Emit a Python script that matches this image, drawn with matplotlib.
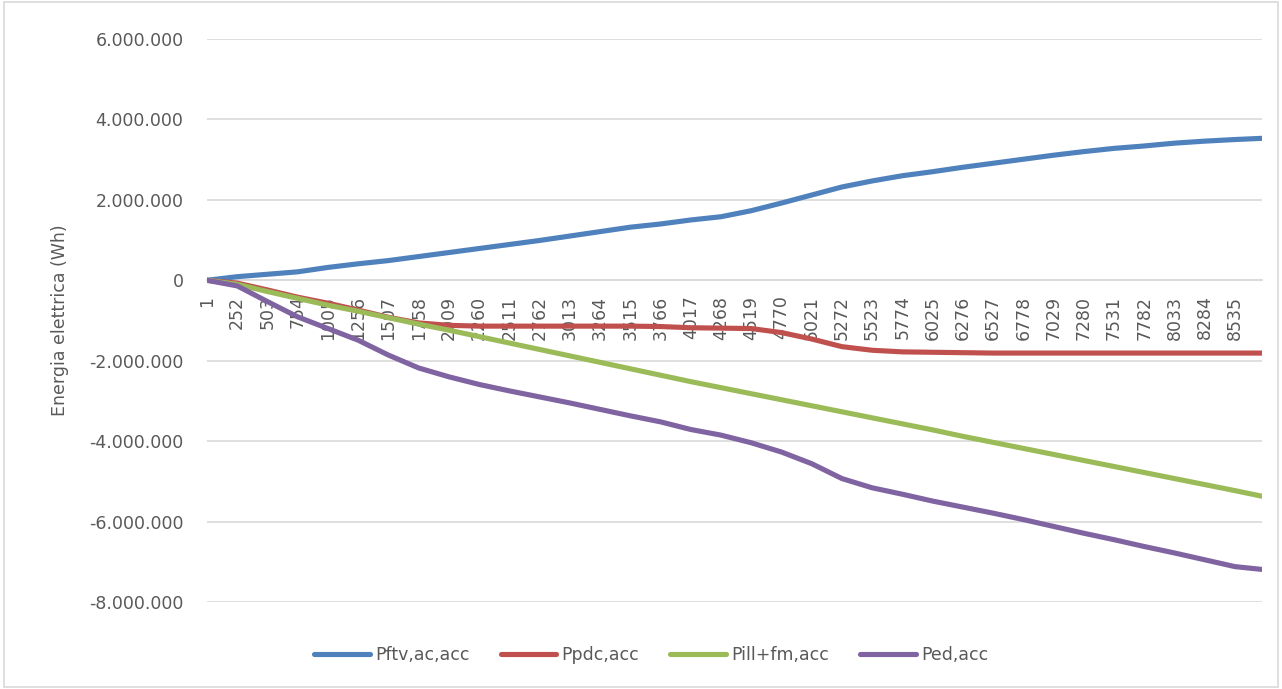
import matplotlib
matplotlib.use('Agg')
import matplotlib.pyplot as plt
from matplotlib.ticker import FuncFormatter
from matplotlib.patches import Rectangle
import numpy as np

hours = [1 + 251 * k for k in range(35)] + [8760]
tick_hours = hours[:-1]

# energia cumulata, milioni di Wh
pftv = [0, 0.09, 0.15, 0.21, 0.32, 0.41, 0.49, 0.59, 0.69, 0.79, 0.89, 0.99, 1.10, 1.21, 1.32, 1.40,
        1.50, 1.58, 1.73, 1.92, 2.12, 2.32, 2.47, 2.60, 2.70, 2.81, 2.91, 3.01, 3.11, 3.20, 3.28, 3.34,
        3.41, 3.46, 3.50, 3.53]
ppdc = [0, -0.07, -0.24, -0.42, -0.57, -0.74, -0.92, -1.06, -1.12, -1.14, -1.14, -1.14, -1.14, -1.14,
        -1.14, -1.15, -1.18, -1.19, -1.20, -1.30, -1.46, -1.65, -1.74, -1.78, -1.79, -1.80, -1.81,
        -1.81, -1.81, -1.81, -1.81, -1.81, -1.81, -1.81, -1.81, -1.81]
pill = [0, -0.10, -0.28, -0.45, -0.62, -0.77, -0.93, -1.09, -1.24, -1.40, -1.56, -1.72, -1.88, -2.04,
        -2.20, -2.36, -2.52, -2.67, -2.82, -2.97, -3.12, -3.27, -3.42, -3.57, -3.72, -3.88, -4.03,
        -4.18, -4.33, -4.48, -4.63, -4.78, -4.93, -5.08, -5.23, -5.37]
ped = [0, -0.14, -0.53, -0.91, -1.20, -1.49, -1.86, -2.18, -2.40, -2.59, -2.75, -2.90, -3.05, -3.21,
       -3.37, -3.52, -3.71, -3.85, -4.04, -4.27, -4.56, -4.93, -5.16, -5.32, -5.49, -5.64, -5.79,
       -5.95, -6.12, -6.29, -6.45, -6.62, -6.78, -6.95, -7.12, -7.19]

labels = ['Pftv,ac,acc', 'Ppdc,acc', 'Pill+fm,acc', 'Ped,acc']
colors = ['#4F81BD', '#C0504D', '#9BBB59', '#8064A2']

plt.rcParams['font.family'] = ['DejaVu Sans']
text_color = '#595959'

fig = plt.figure(figsize=(12.82, 6.89), dpi=100)
ax = fig.add_axes([207 / 1282, 1 - 602 / 689, (1262 - 207) / 1282, (602 - 39) / 689])

x = np.array(hours)
for series, label, c in zip([pftv, ppdc, pill, ped], labels, colors):
    ax.plot(x, np.array(series) * 1e6, color=c, linewidth=3.7, label=label,
            solid_capstyle='round', zorder=3)

ax.set_xlim(1, 8760)
ax.set_ylim(-8e6, 6e6)
ax.set_yticks(np.arange(-8e6, 6e6 + 1, 2e6))
ax.yaxis.set_major_formatter(FuncFormatter(lambda v, p: f'{int(round(v)):,}'.replace(',', '.')))
ax.set_xticks(tick_hours)
ax.set_xticklabels([str(h) for h in tick_hours])

ax.grid(axis='y', color='#D9D9D9', linewidth=1.2, zorder=0)
ax.set_axisbelow(True)
for s in ['top', 'right', 'left']:
    ax.spines[s].set_visible(False)
ax.spines['bottom'].set_position(('data', 0))
ax.spines['bottom'].set_color('#D9D9D9')
ax.spines['bottom'].set_linewidth(1.2)
ax.tick_params(axis='x', length=0, pad=11, labelsize=12.5, labelcolor=text_color, labelrotation=90)
ax.tick_params(axis='y', length=0, pad=17, labelsize=12.5, labelcolor=text_color)
for t in ax.get_xticklabels():
    t.set_ha('center')
    t.set_va('top')
    t.set_rotation_mode('anchor')
    t.set_ha('right')
    t.set_va('center')

ax.set_ylabel('Energia elettrica (Wh)', fontsize=12.5, color=text_color, labelpad=14)

fig.legend(loc='center', bbox_to_anchor=(0.508, 1 - 655 / 689), ncol=4, frameon=False,
           fontsize=12.5, handlelength=3.2, handletextpad=0.3, columnspacing=1.8,
           labelcolor=text_color)

fig.patches.append(Rectangle((0.003, 0.003), 0.994, 0.994, transform=fig.transFigure,
                             fill=False, edgecolor='#D9D9D9', linewidth=1.2))

fig.savefig('out.png', dpi=100)
